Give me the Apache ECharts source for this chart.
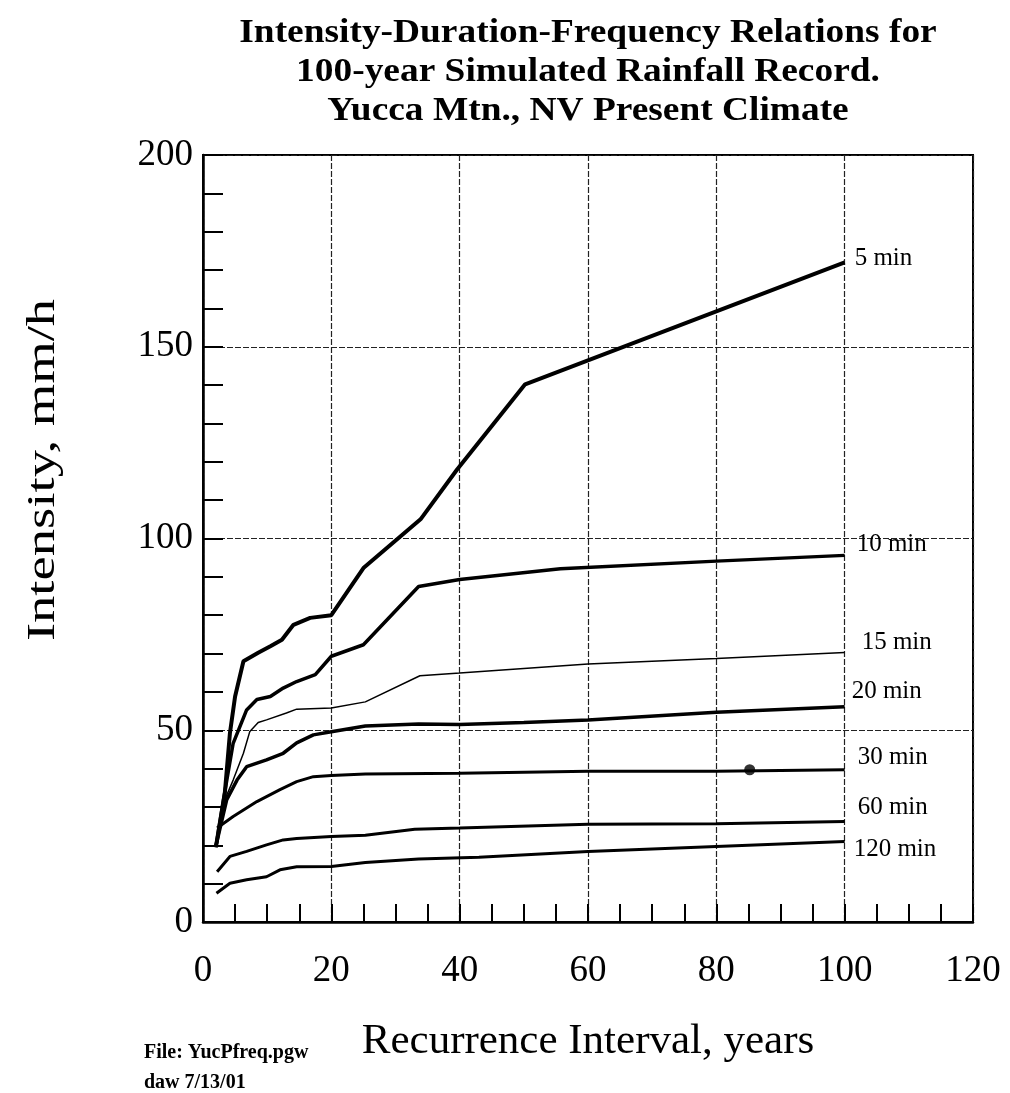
<!DOCTYPE html>
<html>
<head>
<meta charset="utf-8">
<script src="https://cdn.jsdelivr.net/npm/echarts@6/dist/echarts.min.js"></script>
<style>
  html, body { margin: 0; padding: 0; background: #fff; }
  #idfChart { width: 1010px; height: 1093px; }
</style>
</head>
<body>
<div id="idfChart"></div>
<script>
// curves: [recurrence interval (yr), intensity (mm/h)]
var min5 = [[2,19.5],[3.4,33.6],[4.2,49.3],[5,58.8],[6.3,68],[8.6,70.2],[10.5,71.9],[12.3,73.6],[14.1,77.5],[16.7,79.3],[20,80],[25,92.3],[33.9,105],[39.6,118],[50.2,140.2],[100,172]];
var min10 = [[2,19.5],[3.3,33],[4.7,46.6],[6.8,55.3],[8.4,58],[10.5,58.8],[12.5,61],[14.6,62.7],[17.5,64.5],[20,69.3],[25,72.3],[33.6,87.5],[40,89.3],[55.7,92.1],[80,94.1],[100,95.6]];
var min15 = [[2,19.7],[3.4,31.9],[4.7,37],[6.3,44],[7.3,49.7],[8.6,52],[9.9,52.7],[13,54.5],[14.6,55.5],[20,55.8],[25.3,57.4],[33.8,64.2],[40,64.9],[60,67.3],[80,68.7],[100,70.3]];
var min20 = [[2,19.7],[3.7,31.9],[5.3,37],[6.8,40.5],[9.9,42.3],[12.5,44],[14.6,46.7],[17.2,48.8],[20,49.6],[25.3,51.1],[33.6,51.6],[40,51.5],[50,52],[60,52.7],[80,54.7],[100,56.1]];
var min30 = [[2.2,24.5],[4.7,27.5],[8.4,31.4],[12,34.5],[14.6,36.6],[17.2,37.9],[20,38.2],[25.3,38.6],[40,38.8],[60,39.3],[80,39.3],[100,39.7]];
var min60 = [[2.2,13.1],[4.2,17.1],[6.8,18.4],[9.9,20.1],[12.5,21.4],[14.6,21.8],[20,22.3],[25.3,22.6],[33,24.2],[40,24.5],[60,25.5],[80,25.6],[100,26.2]];
var min120 = [[2.1,7.5],[4.2,10.1],[6.8,11],[9.9,11.8],[12,13.6],[14.6,14.4],[20,14.5],[25.3,15.5],[33.6,16.4],[43,16.9],[60,18.4],[80,19.7],[100,21]];
var dotPoint = [[85.2,39.7]];

var titleLines = [
    'Intensity-Duration-Frequency Relations for',
    '100-year Simulated Rainfall Record.',
    'Yucca Mtn., NV Present Climate'
];

var serif = '"Liberation Serif", "DejaVu Serif", serif';
var chart = echarts.init(document.getElementById('idfChart'));

function curve(name, data, width, offset) {
    return {
        name: name,
        type: 'line',
        data: data,
        showSymbol: false,
        silent: true,
        lineStyle: { color: '#000', width: width },
        endLabel: {
            show: true,
            formatter: '{a}',
            color: '#000',
            fontFamily: serif,
            fontSize: 25,
            offset: offset
        }
    };
}

function titleText(text, y) {
    return {
        type: 'text',
        x: 588,
        y: y,
        scaleX: 1.1,
        style: { text: text, x: 0, y: 0, font: 'bold 34px ' + serif, fill: '#000', textAlign: 'center' }
    };
}

option = {
    animation: false,
    backgroundColor: '#fff',
    grid: {
        left: 203,
        top: 155,
        right: 37,
        bottom: 171,
        show: true,
        borderColor: '#000',
        borderWidth: 2
    },
    graphic: [
        titleText(titleLines[0], 16),
        titleText(titleLines[1], 55),
        titleText(titleLines[2], 94),
        {
            // y axis title, stretched along its length like the scan
            type: 'text',
            x: 44,
            y: 470,
            rotation: Math.PI / 2,
            scaleX: 1.4,
            style: { text: 'Intensity, mm/h', x: 0, y: 0, font: '39px ' + serif, fill: '#000', textAlign: 'center', textVerticalAlign: 'middle' }
        },
        { type: 'text', style: { text: 'File: YucPfreq.pgw', x: 144, y: 1043, font: 'bold 20px ' + serif, fill: '#000' } },
        { type: 'text', style: { text: 'daw 7/13/01', x: 144, y: 1073, font: 'bold 20px ' + serif, fill: '#000' } }
    ],
    xAxis: {
        type: 'value',
        min: 0,
        max: 120,
        interval: 20,
        name: 'Recurrence Interval, years',
        nameLocation: 'middle',
        nameGap: 98,
        nameTextStyle: { color: '#000', fontFamily: serif, fontSize: 43 },
        axisLine: { lineStyle: { color: '#000', width: 2.5 } },
        axisTick: { show: true, inside: true, length: 18, lineStyle: { color: '#000', width: 2 } },
        minorTick: { show: true, splitNumber: 4, length: 18, lineStyle: { color: '#000', width: 2 } },
        axisLabel: { color: '#000', fontFamily: serif, fontSize: 37, margin: 31 },
        splitLine: { show: true, lineStyle: { color: '#222', width: 1.2, type: [6, 2] } }
    },
    yAxis: {
        type: 'value',
        min: 0,
        max: 200,
        interval: 50,
        axisLine: { show: true, lineStyle: { color: '#000', width: 2.5 } },
        axisTick: { show: true, inside: true, length: 20, lineStyle: { color: '#000', width: 2 } },
        minorTick: { show: true, splitNumber: 5, length: 20, lineStyle: { color: '#000', width: 2 } },
        axisLabel: { color: '#000', fontFamily: serif, fontSize: 37, margin: 10 },
        splitLine: { show: true, lineStyle: { color: '#222', width: 1.2, type: [6, 2] } }
    },
    series: [
        curve('5 min', min5, 4, [2, -4]),
        curve('10 min', min10, 3.5, [4, -11]),
        curve('15 min', min15, 1.5, [9, -10]),
        curve('20 min', min20, 3.5, [-1, -15]),
        curve('30 min', min30, 3, [5, -12]),
        curve('60 min', min60, 3, [5, -14]),
        curve('120 min', min120, 3, [1, 8]),
        {
            name: 'marker',
            type: 'scatter',
            data: dotPoint,
            symbolSize: 11,
            silent: true,
            itemStyle: { color: '#000' }
        }
    ]
};
chart.setOption(option);
</script>
</body>
</html>
